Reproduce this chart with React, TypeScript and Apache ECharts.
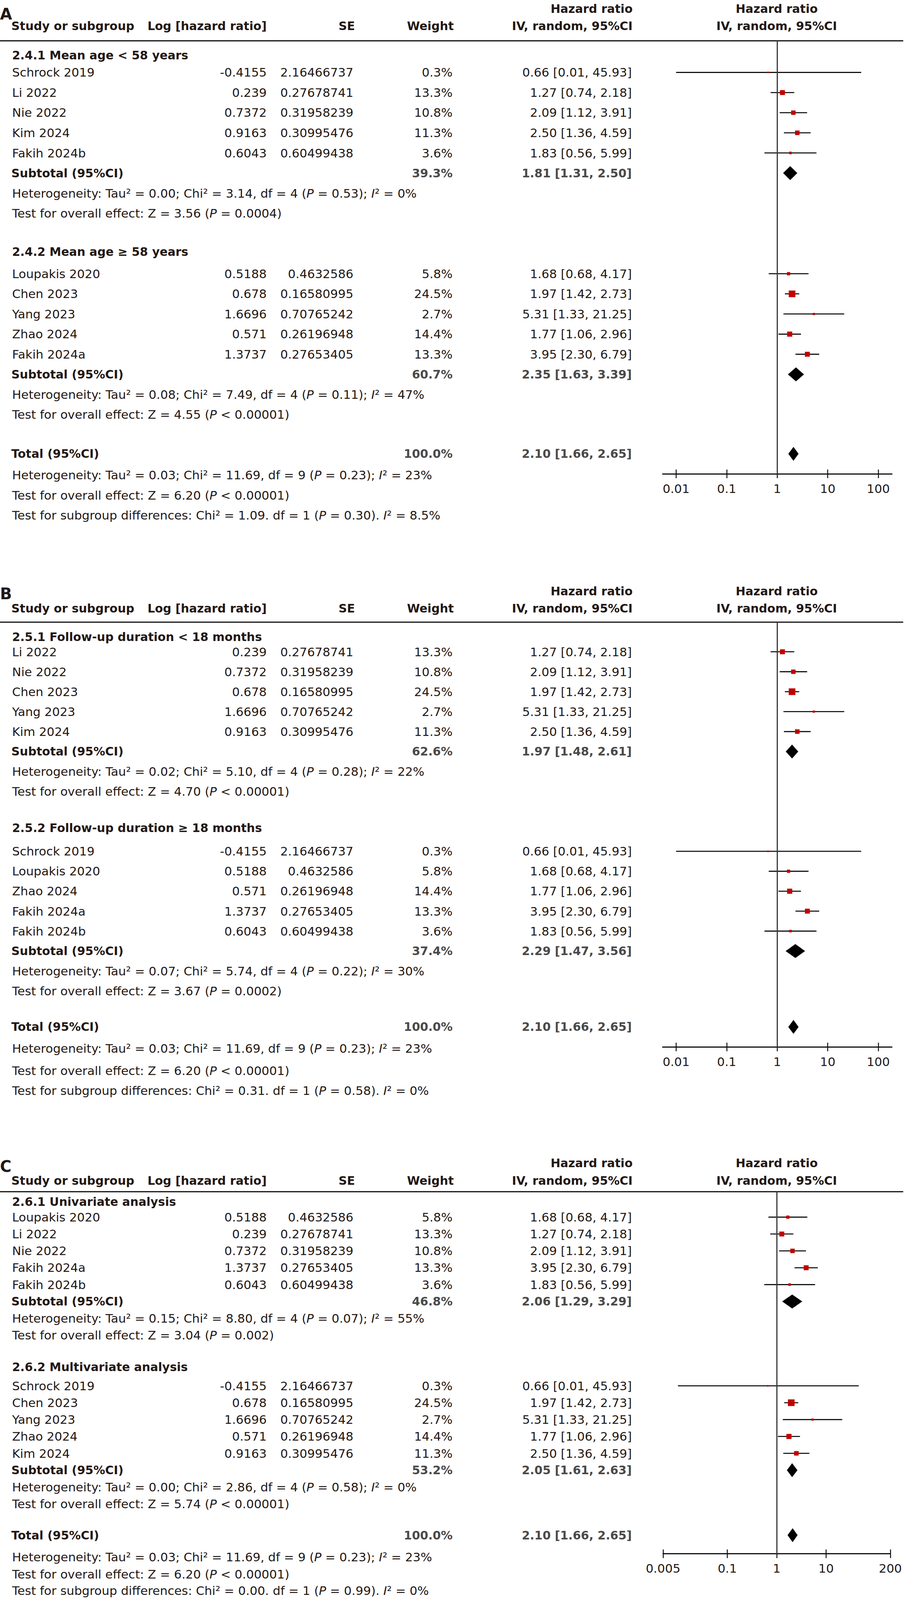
import React, { useEffect, useRef, useState } from "react";
import * as echarts from "echarts";

// ---------------- data ----------------
const studyNames = ["Schrock 2019", "Loupakis 2020", "Li 2022", "Nie 2022", "Chen 2023", "Yang 2023", "Zhao 2024", "Kim 2024", "Fakih 2024a", "Fakih 2024b"];
const logHRLabels = ["-0.4155", "0.5188", "0.239", "0.7372", "0.678", "1.6696", "0.571", "0.9163", "1.3737", "0.6043"];
const seLabels = ["2.16466737", "0.4632586", "0.27678741", "0.31958239", "0.16580995", "0.70765242", "0.26196948", "0.30995476", "0.27653405", "0.60499438"];
const studyWeights = [0.3, 5.8, 13.3, 10.8, 24.5, 2.7, 14.4, 11.3, 13.3, 3.6];
const studyHR = [0.66, 1.68, 1.27, 2.09, 1.97, 5.31, 1.77, 2.5, 3.95, 1.83];
const studyLow = [0.01, 0.68, 0.74, 1.12, 1.42, 1.33, 1.06, 1.36, 2.3, 0.56];
const studyHigh = [45.93, 4.17, 2.18, 3.91, 2.73, 21.25, 2.96, 4.59, 6.79, 5.99];

const panelLetters = ["A", "B", "C"];
const subgroupTitles = [
  ["2.4.1 Mean age < 58 years", "2.4.2 Mean age \u2265 58 years"],
  ["2.5.1 Follow-up duration < 18 months", "2.5.2 Follow-up duration \u2265 18 months"],
  ["2.6.1 Univariate analysis", "2.6.2 Multivariate analysis"],
];
const subgroupStudies = [
  [["Schrock 2019", "Li 2022", "Nie 2022", "Kim 2024", "Fakih 2024b"], ["Loupakis 2020", "Chen 2023", "Yang 2023", "Zhao 2024", "Fakih 2024a"]],
  [["Li 2022", "Nie 2022", "Chen 2023", "Yang 2023", "Kim 2024"], ["Schrock 2019", "Loupakis 2020", "Zhao 2024", "Fakih 2024a", "Fakih 2024b"]],
  [["Loupakis 2020", "Li 2022", "Nie 2022", "Fakih 2024a", "Fakih 2024b"], ["Schrock 2019", "Chen 2023", "Yang 2023", "Zhao 2024", "Kim 2024"]],
];
const subtotalWeights = [[39.3, 60.7], [62.6, 37.4], [46.8, 53.2]];
const subtotalHR = [[1.81, 2.35], [1.97, 2.29], [2.06, 2.05]];
const subtotalLow = [[1.31, 1.63], [1.48, 1.47], [1.29, 1.61]];
const subtotalHigh = [[2.5, 3.39], [2.61, 3.56], [3.29, 2.63]];
const subgroupTau2 = [["0.00", "0.08"], ["0.02", "0.07"], ["0.15", "0.00"]];
const subgroupChi2 = [["3.14", "7.49"], ["5.10", "5.74"], ["8.80", "2.86"]];
const subgroupDf = [["4", "4"], ["4", "4"], ["4", "4"]];
const subgroupHetP = [["0.53", "0.11"], ["0.28", "0.22"], ["0.07", "0.58"]];
const subgroupI2 = [["0", "47"], ["22", "30"], ["55", "0"]];
const subgroupZ = [["3.56", "4.55"], ["4.70", "3.67"], ["3.04", "5.74"]];
const subgroupZP = [["= 0.0004", "< 0.00001"], ["< 0.00001", "= 0.0002"], ["= 0.002", "< 0.00001"]];

const totalWeight = 100.0;
const totalHR = 2.1;
const totalLow = 1.66;
const totalHigh = 2.65;
const totalHet = ["0.03", "11.69", "9", "0.23", "23"];
const totalZ = ["6.20", "< 0.00001"];
const diffChi2 = ["1.09", "0.31", "0.00"];
const diffDf = ["1", "1", "1"];
const diffP = ["0.30", "0.58", "0.99"];
const diffI2 = ["8.5", "0", "0"];

const axisTickValues = [[0.01, 0.1, 1, 10, 100], [0.01, 0.1, 1, 10, 100], [0.005, 0.1, 1, 10, 200]];
const axisTickLabels = [["0.01", "0.1", "1", "10", "100"], ["0.01", "0.1", "1", "10", "100"], ["0.005", "0.1", "1", "10", "200"]];

// ---------------- layout / style ----------------
const FONT = '"DejaVu Sans", Verdana, sans-serif';
const TXT = "#231815";
const SUBC = "#4a4a4a";
const RED = "#C00000";
const FS = 31;
const FSB = 30;
const REF_W = 2315;
const REF_H = 4467;

const LAYOUT: any[] = [
  { letterY: 39, hdr1: 25, hdr2: 73, rule: 114, line0: 146, step: 56.2, axisY: 1323, axLeft: 1697, axRight: 2284, axMin: -2.266, axMax: 2.27, off: { 0: 8, 10: -5, 20: -3 } },
  { letterY: 1658, hdr1: 1651, hdr2: 1699, rule: 1737, line0: 1764, step: 55.7, axisY: 2923, axLeft: 1697, axRight: 2284, axMin: -2.266, axMax: 2.27, off: { 0: 14, 10: -10, 20: -11, 21: -7 } },
  { letterY: 3256, hdr1: 3247, hdr2: 3296, rule: 3327, line0: 3351, step: 47.1, axisY: 4338, axLeft: 1698, axRight: 2280, axMin: null, axMax: null, off: { 0: 4, 10: -5, 20: -7, 21: 7, 22: 8, 23: 7 } },
];
const COL = { name: 31, logHR: 683, se: 905, seHdr: 909, weight: 1159, weightHdr: 1162, hr: 1618, hrHdr: 1620, plotHdr: 1989 };

const fmtPct = (w: number) => w.toFixed(1) + "%";
const fmtCI = (e: number, l: number, h: number) => `${e.toFixed(2)} [${l.toFixed(2)}, ${h.toFixed(2)}]`;

function buildOption(sy: number) {
  const grids: any[] = [];
  const xAxes: any[] = [];
  const yAxes: any[] = [];
  const series: any[] = [];
  const gr: any[] = [];
  const RICH = { i: { fontStyle: "italic", fontSize: FS, fontFamily: FONT, fill: TXT } };

  const T = (x: number, y: number, text: string, o: any = {}) => {
    const align = o.align || "left";
    gr.push({
      type: "text",
      x,
      y,
      silent: true,
      style: {
        text,
        fill: o.fill || TXT,
        fontSize: o.size || (o.bold ? FSB : FS),
        fontFamily: FONT,
        fontWeight: o.bold ? "bold" : "normal",
        align,
        textAlign: align,
        verticalAlign: "middle",
        textVerticalAlign: "middle",
        rich: o.rich ? RICH : undefined,
      },
    });
  };

  LAYOUT.forEach((R, p) => {
    const L = {
      letterY: R.letterY * sy, hdr1: R.hdr1 * sy, hdr2: R.hdr2 * sy, rule: R.rule * sy,
      line0: R.line0 * sy, step: R.step * sy, axisY: R.axisY * sy,
    };
    const lineAt = (i: number) => i + ((R.off[i] || 0) * sy) / L.step;
    const ly = (i: number) => L.line0 + lineAt(i) * L.step;
    const lv = axisTickValues[p].map((v) => Math.log10(v));
    const axMin = R.axMin != null ? R.axMin : lv[0];
    const axMax = R.axMax != null ? R.axMax : lv[lv.length - 1];

    // headers
    T(0, L.letterY, panelLetters[p], { bold: true, size: 40 });
    T(29, L.hdr2, "Study or subgroup", { bold: true });
    T(COL.logHR, L.hdr2, "Log [hazard ratio]", { bold: true, align: "right" });
    T(COL.seHdr, L.hdr2, "SE", { bold: true, align: "right" });
    T(COL.weightHdr, L.hdr2, "Weight", { bold: true, align: "right" });
    T(COL.hrHdr, L.hdr1, "Hazard ratio", { bold: true, align: "right" });
    T(COL.hrHdr, L.hdr2, "IV, random, 95%CI", { bold: true, align: "right" });
    T(COL.plotHdr, L.hdr1, "Hazard ratio", { bold: true, align: "center" });
    T(COL.plotHdr, L.hdr2, "IV, random, 95%CI", { bold: true, align: "center" });
    gr.push({ type: "line", silent: true, shape: { x1: 0, y1: L.rule, x2: 2313, y2: L.rule }, style: { stroke: "#111", lineWidth: 3 } });

    const studyData: any[] = [];
    const diamondData: any[] = [];

    for (let g = 0; g < 2; g++) {
      const base = g * 10;
      T(31, ly(base), subgroupTitles[p][g], { bold: true });
      subgroupStudies[p][g].forEach((name, k) => {
        const s = studyNames.indexOf(name);
        const line = base + 1 + k;
        const y = ly(line);
        T(COL.name, y, name);
        T(COL.logHR, y, logHRLabels[s], { align: "right" });
        T(COL.se, y, seLabels[s], { align: "right" });
        T(COL.weight, y, fmtPct(studyWeights[s]), { align: "right" });
        T(COL.hr, y, fmtCI(studyHR[s], studyLow[s], studyHigh[s]), { align: "right" });
        studyData.push([Math.log10(studyLow[s]), Math.log10(studyHigh[s]), Math.log10(studyHR[s]), lineAt(line), studyWeights[s]]);
      });
      const sl = base + 6;
      T(29, ly(sl), "Subtotal (95%CI)", { bold: true });
      T(COL.weight, ly(sl), fmtPct(subtotalWeights[p][g]), { bold: true, align: "right", fill: SUBC });
      T(COL.hr, ly(sl), fmtCI(subtotalHR[p][g], subtotalLow[p][g], subtotalHigh[p][g]), { bold: true, align: "right", fill: SUBC });
      diamondData.push([Math.log10(subtotalLow[p][g]), Math.log10(subtotalHigh[p][g]), Math.log10(subtotalHR[p][g]), lineAt(sl)]);
      T(31, ly(base + 7),
        `Heterogeneity: Tau\u00b2 = ${subgroupTau2[p][g]}; Chi\u00b2 = ${subgroupChi2[p][g]}, df = ${subgroupDf[p][g]} ({i|P} = ${subgroupHetP[p][g]}); {i|I}\u00b2 = ${subgroupI2[p][g]}%`,
        { rich: true });
      T(31, ly(base + 8), `Test for overall effect: Z = ${subgroupZ[p][g]} ({i|P} ${subgroupZP[p][g]})`, { rich: true });
    }
    // total
    T(29, ly(20), "Total (95%CI)", { bold: true });
    T(COL.weight, ly(20), fmtPct(totalWeight), { bold: true, align: "right", fill: SUBC });
    T(COL.hr, ly(20), fmtCI(totalHR, totalLow, totalHigh), { bold: true, align: "right", fill: SUBC });
    diamondData.push([Math.log10(totalLow), Math.log10(totalHigh), Math.log10(totalHR), lineAt(20)]);
    T(31, ly(21), `Heterogeneity: Tau\u00b2 = ${totalHet[0]}; Chi\u00b2 = ${totalHet[1]}, df = ${totalHet[2]} ({i|P} = ${totalHet[3]}); {i|I}\u00b2 = ${totalHet[4]}%`, { rich: true });
    T(31, ly(22), `Test for overall effect: Z = ${totalZ[0]} ({i|P} ${totalZ[1]})`, { rich: true });
    T(31, ly(23), `Test for subgroup differences: Chi\u00b2 = ${diffChi2[p]}. df = ${diffDf[p]} ({i|P} = ${diffP[p]}). {i|I}\u00b2 = ${diffI2[p]}%`, { rich: true });

    // grids & axes
    const gi = grids.length;
    grids.push({ left: R.axLeft, top: L.rule, width: R.axRight - R.axLeft, height: L.axisY - L.rule });
    grids.push({ left: R.axLeft, top: L.axisY, width: R.axRight - R.axLeft, height: 10 });
    const fmt = (v: number) => {
      const i = lv.findIndex((t) => Math.abs(t - v) < 1e-6);
      return i >= 0 ? axisTickLabels[p][i] : "";
    };
    xAxes.push({
      gridIndex: gi, type: "value", min: axMin, max: axMax, position: "bottom",
      axisLine: { show: true, onZero: false, lineStyle: { color: "#111", width: 3 } },
      axisTick: { show: true, customValues: lv, length: 12 * sy, lineStyle: { color: "#111", width: 2.5 } },
      axisLabel: { show: true, customValues: lv, formatter: fmt, margin: 24 * sy, fontSize: FS, fontFamily: FONT, color: TXT },
      splitLine: { show: false },
    });
    xAxes.push({
      gridIndex: gi + 1, type: "value", min: axMin, max: axMax, position: "top",
      axisLine: { show: false, onZero: false },
      axisTick: { show: true, customValues: lv, length: 12 * sy, lineStyle: { color: "#111", width: 2.5 } },
      axisLabel: { show: false },
      splitLine: { show: false },
    });
    yAxes.push({ gridIndex: gi, type: "value", inverse: true, min: (L.rule - L.line0) / L.step, max: (L.axisY - L.line0) / L.step, show: false, splitLine: { show: false } });
    yAxes.push({ gridIndex: gi + 1, type: "value", min: 0, max: 1, show: false, splitLine: { show: false } });

    series.push({
      type: "custom",
      name: `studies-${p}`,
      xAxisIndex: gi,
      yAxisIndex: gi,
      clip: false,
      silent: true,
      data: studyData,
      renderItem: (params: any, api: any) => {
        const lo = api.coord([api.value(0), api.value(3)]);
        const hi = api.coord([api.value(1), api.value(3)]);
        const c = api.coord([api.value(2), api.value(3)]);
        const sz = Math.max(4, 3.45 * Math.sqrt(api.value(4)));
        return {
          type: "group",
          children: [
            { type: "line", shape: { x1: lo[0], y1: lo[1], x2: hi[0], y2: hi[1] }, style: { stroke: "#000", lineWidth: 2.6 } },
            { type: "rect", shape: { x: c[0] - sz / 2, y: c[1] - sz / 2, width: sz, height: sz }, style: { fill: RED } },
          ],
        };
      },
      markLine: {
        silent: true,
        symbol: ["none", "none"],
        label: { show: false },
        lineStyle: { color: "#3a3a3a", width: 3, type: "solid" },
        data: [{ xAxis: 0 }],
      },
      z: 3,
    });
    series.push({
      type: "custom",
      name: `diamonds-${p}`,
      xAxisIndex: gi,
      yAxisIndex: gi,
      clip: false,
      silent: true,
      data: diamondData,
      renderItem: (params: any, api: any) => {
        const lo = api.coord([api.value(0), api.value(3)]);
        const hi = api.coord([api.value(1), api.value(3)]);
        const c = api.coord([api.value(2), api.value(3)]);
        const h = 19.5 * sy;
        return {
          type: "polygon",
          shape: { points: [[lo[0], lo[1]], [c[0], c[1] - h], [hi[0], hi[1]], [c[0], c[1] + h]] },
          style: { fill: "#000" },
        };
      },
      z: 4,
    });
  });

  return {
    animation: false,
    backgroundColor: "#ffffff",
    grid: grids,
    xAxis: xAxes,
    yAxis: yAxes,
    series,
    graphic: gr,
  };
}

function viewportHeight() {
  if (typeof window === "undefined") return REF_H;
  const h = window.innerHeight || REF_H;
  return Math.min(REF_H, h);
}

export default function App() {
  const ref = useRef<HTMLDivElement>(null);
  const [h] = useState<number>(() => viewportHeight());
  useEffect(() => {
    document.body.style.margin = "0";
    document.body.style.overflow = "hidden";
    const sy = h / REF_H;
    const chart = echarts.init(ref.current as HTMLDivElement, undefined, { renderer: "svg" });
    chart.setOption(buildOption(sy) as any);
    return () => chart.dispose();
  }, [h]);
  return <div ref={ref} style={{ width: REF_W, height: h, background: "#fff" }} />;
}
